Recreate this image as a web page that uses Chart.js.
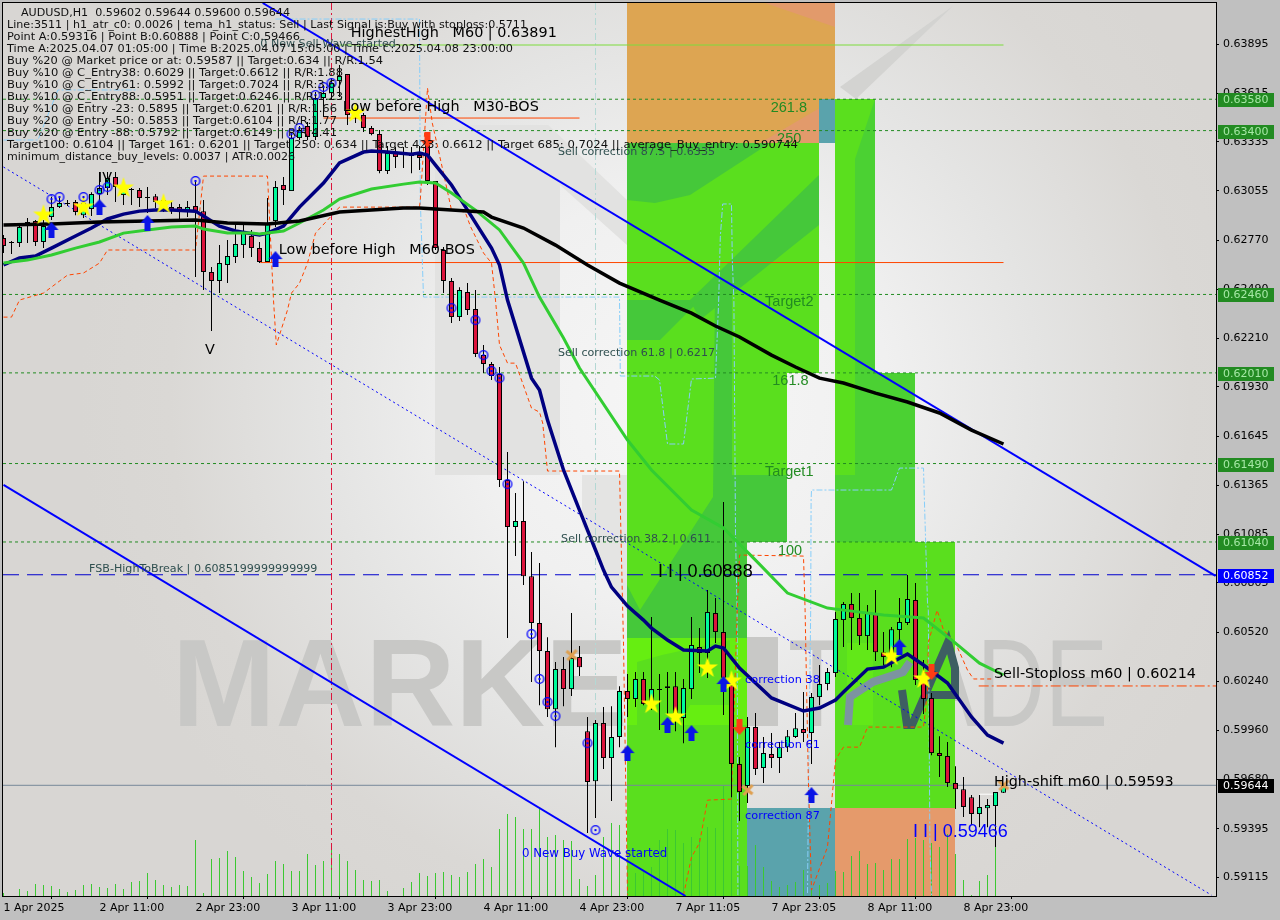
<!DOCTYPE html>
<html>
<head>
<meta charset="utf-8">
<title>AUDUSD,H1</title>
<script src="https://cdn.jsdelivr.net/npm/chart.js@4/dist/chart.umd.min.js"></script>
<style>
  html, body { margin: 0; padding: 0; background: #c0c0c0; }
  canvas { display: block; }
</style>
</head>
<body>
<canvas id="chart" width="1280" height="920"></canvas>
<script>
// candles, one entry per H1 bar
var opens = [
  .62784,.62761,.62755,.62858,.62881,.62761,.62904,.62961,.62984,.62990,
  .62915,.62950,.63036,.63070,.63134,.63030,.63065,.63059,.63019,.63024,
  .63002,.62961,.62961,.62933,.62967,.62938,.62589,.62537,.62629,.62675,
  .62743,.62795,.62726,.62646,.62881,.63088,.63053,.63357,.63426,.63363,
  .63587,.63615,.63684,.63724,.63501,.63489,.63415,.63380,.63168,.63271,
  .63265,.63254,.63260,.63329,.63111,.62715,.62537,.62330,.62474,.62376,
  .62112,.62061,.62003,.61395,.61126,.61160,.60844,.60575,.60414,.60081,
  .60311,.60196,.60380,.59954,.59668,.60001,.59800,.59921,.60185,.60139,
  .60254,.60110,.60196,.60202,.60213,.60030,.60196,.60437,.60403,.60632,
  .60523,.60219,.59766,.59640,.59978,.59743,.59823,.59800,.59863,.59921,
  .59967,.59944,.60150,.60225,.60288,.60592,.60684,.60604,.60500,.60632,
  .60408,.60391,.60535,.60575,.60707,.60248,.60145,.59829,.59812,.59657,
  .59622,.59576,.59479,.59513,.59525,.59602];
var highs = [
  .62801,.62766,.62858,.62898,.62887,.62887,.63019,.63019,.63002,.63002,
  .63024,.63047,.63162,.63162,.63162,.63099,.63070,.63070,.63076,.63036,
  .63024,.62990,.62979,.62996,.63116,.63002,.62617,.62743,.62772,.62870,
  .62870,.62830,.62761,.63013,.63111,.63134,.63386,.63426,.63449,.63621,
  .63661,.63702,.63776,.63724,.63529,.63501,.63426,.63403,.63311,.63306,
  .63306,.63306,.63311,.63386,.63111,.62732,.62554,.62502,.62525,.62485,
  .62170,.62072,.62044,.61556,.61321,.61389,.60982,.60919,.60494,.60351,
  .60380,.60632,.60443,.60036,.60018,.60093,.60098,.60213,.60282,.60294,
  .60294,.60609,.60282,.60294,.60294,.60254,.60609,.60546,.60764,.60718,
  .61269,.60288,.59806,.60036,.60059,.59921,.59944,.59892,.59961,.60059,
  .60179,.60173,.60334,.60317,.60638,.60695,.60747,.60747,.60678,.60764,
  .60523,.60552,.60718,.60850,.60804,.60363,.60173,.59926,.59892,.59754,
  .59691,.59588,.59588,.59565,.59605,.59644];
var lows = [
  .62698,.62692,.62732,.62755,.62738,.62726,.62887,.62956,.62967,.62915,
  .62898,.62910,.62973,.63030,.62990,.62973,.62973,.62961,.62927,.62956,
  .62933,.62921,.62887,.62904,.62560,.62485,.62250,.62468,.62525,.62640,
  .62669,.62675,.62640,.62646,.62847,.62973,.63053,.63346,.63346,.63346,
  .63478,.63575,.63593,.63432,.63443,.63392,.63374,.63156,.63151,.63185,
  .63185,.63156,.63174,.63088,.62715,.62468,.62296,.62307,.62342,.62101,
  .62009,.61969,.61355,.60489,.60959,.60793,.60236,.60104,.60036,.59863,
  .60098,.60156,.60271,.59370,.59456,.59737,.59554,.59863,.60036,.60093,
  .60104,.60076,.59961,.60053,.59954,.59886,.60139,.60288,.60259,.60460,
  .60047,.59576,.59439,.59542,.59703,.59657,.59743,.59714,.59835,.59915,
  .59892,.59766,.60104,.60190,.60265,.60437,.60420,.60449,.60420,.60357,
  .60334,.60322,.60477,.60563,.60219,.60053,.59817,.59691,.59634,.59508,
  .59462,.59416,.59404,.59404,.59290,.59600];
var closes = [
  .62738,.62755,.62847,.62875,.62761,.62852,.62961,.62984,.62979,.62933,
  .62984,.63036,.63070,.63128,.63076,.63070,.63059,.63013,.63013,.62990,
  .62967,.62938,.62933,.62961,.62938,.62589,.62537,.62640,.62680,.62749,
  .62812,.62726,.62646,.62864,.63076,.63059,.63357,.63403,.63363,.63587,
  .63615,.63673,.63713,.63489,.63484,.63415,.63380,.63168,.63271,.63248,
  .63260,.63271,.63243,.63111,.62726,.62537,.62330,.62485,.62371,.62118,
  .62061,.61992,.61395,.61126,.61160,.60844,.60575,.60414,.60081,.60311,
  .60196,.60374,.60322,.59663,.60001,.59800,.59921,.60185,.60139,.60254,
  .60110,.60196,.60191,.60213,.60059,.60202,.60449,.60403,.60638,.60523,
  .60259,.59766,.59605,.59978,.59737,.59829,.59800,.59863,.59926,.59972,
  .59944,.60150,.60225,.60294,.60598,.60684,.60604,.60500,.60632,.60408,
  .60380,.60540,.60581,.60713,.60248,.60139,.59829,.59812,.59657,.59622,
  .59519,.59479,.59519,.59531,.59605,.59644];
var volumes = [
  30,0,70,50,120,110,100,70,40,60,110,120,90,80,120,70,140,150,230,160,
  110,90,110,100,560,30,370,380,450,390,250,190,130,220,350,320,250,250,420,310,
  350,470,420,350,260,160,150,160,50,0,80,140,230,200,230,240,210,190,240,320,
  370,290,670,820,790,670,670,870,590,610,560,550,170,100,210,590,730,710,260,230,
  260,290,560,670,660,530,590,580,690,680,1100,1100,300,300,510,290,150,90,110,140,
  260,60,110,130,250,240,400,450,320,330,260,370,370,570,580,560,530,490,620,420,
  160,10,150,210,490,0];

// moving averages, as bar / price pairs
var navyBars = [0,2,4,6,9,11,13,15,17,19,21,24,25,27,29,32,33,35,37,40,42,45,46,48,51,52,53,54,56,58,61,62,63,66,67,68,69,70,72,73,74,75,76,78,80,81,83,85,88,89,90,92,94,96,100,102,104,105,108,110,113,115,118,121,123,125];
var navyPrices = [.62629,.62669,.62680,.62726,.62795,.62841,.62893,.62921,.62938,.62944,.62944,.62938,.62910,.62852,.62824,.62801,.62812,.62852,.62961,.63099,.63214,.63277,.63283,.63277,.63265,.63271,.63260,.63202,.63088,.62944,.62726,.62629,.62428,.61980,.61912,.61739,.61596,.61453,.61223,.61108,.60994,.60879,.60781,.60672,.60592,.60546,.60477,.60420,.60414,.60443,.60431,.60317,.60231,.60145,.60070,.60087,.60133,.60179,.60311,.60322,.60397,.60334,.60231,.60036,.59932,.59886];
var greenBars = [0,3,6,9,12,15,18,21,24,25,28,31,32,35,37,40,42,46,50,52,54,56,59,62,65,67,70,72,78,81,86,90,94,98,103,105,110,115,119,122,125];
var greenPrices = [.62640,.62657,.62686,.62726,.62761,.62812,.62830,.62847,.62852,.62835,.62812,.62812,.62807,.62824,.62870,.62944,.63007,.63065,.63093,.63105,.63099,.63042,.62944,.62830,.62640,.62445,.62210,.62038,.61625,.61453,.61223,.61120,.60936,.60747,.60661,.60649,.60621,.60604,.60460,.60345,.60277];
var blackBars = [0,6,12,18,24,28,33,37,42,50,52,56,60,61,65,69,73,77,82,86,89,92,96,99,102,105,109,113,117,121,125];
var blackPrices = [.62858,.62864,.62875,.62881,.62887,.62870,.62864,.62881,.62933,.62956,.62956,.62944,.62933,.62904,.62841,.62743,.62629,.62525,.62428,.62353,.62279,.62216,.62112,.62044,.61980,.61952,.61894,.61843,.61780,.61682,.61602];

// thin stepped stop lines, null breaks the line
var orangeBars = [0,1,2,5,8,10,12,13,24,25,33,33.75,34.1,35.5,36,37,38,39,42,52,52.1,53,53.6,55,56,57.7,58.4,60,61,61.5,62,63,64,66,67,67.4,68,77,77.4,77.5,78,81,85,86,87,88,91,91.1,91.7,92,100,100.2,100.6,101,103,104,104.6,105,107,108,115,115.5,115.6,116.7,117.5,119,120.5,121.25,123.75];
var orangePrices = [.62330,.62330,.62428,.62468,.62571,.62583,.62640,.62715,.62715,.63139,.63139,.62428,.62170,.62371,.62468,.62525,.62640,.62812,.62961,.62961,.63002,.63644,.63443,.63156,.62944,.62933,.62847,.62698,.62640,.62428,.62170,.62066,.62066,.61808,.61785,.61722,.61447,.61447,.60649,.60460,.59014,null,.59014,.59232,.59313,.59559,.59565,.59749,.60632,.60965,.60959,.60649,.59691,.59043,.59290,.59789,.59835,.59863,.59863,.59978,.59978,.60190,.60460,.60649,.60535,.60460,.60305,.60254,.60254];
var skyBars = [0,4.3,6.8,16.8,25,34,52,52.1,52.5,77,77.1,81.4,82,83,85,86,89,89.4,89.6,89.9,91,91.1,91.3,91.5,91.7,91.8,95,100.5,100.6,100.9,100.95,101,111,112,115,115.1,115.3,115.5,115.6,115.8,116];
var skyPrices = [.63346,.63346,.63633,.63633,null,.64040,.64040,.63002,.62445,.62445,.61992,.61992,.61969,.61602,.61602,.61975,.61980,.62428,.62789,.62979,.62979,.62657,.62428,.61091,.60649,.59014,null,.59026,.59502,.60649,.61280,.61338,.61338,.61464,.61464,.61298,.60994,.60690,.60649,.59313,.59014];

// trend channel: bar, price at each end
var channelTop = { bars: [32.4, 151.5], prices: [.64132, .60845] };
var channelLow = { bars: [0, 85.25], prices: [.61367, .59009] };
var channelMid = { bars: [0, 151], prices: [.63191, .59014] };

// signal marks
var starBars = [5,10,15,20,44,81,84,88,91,111,115];
var starPrices = [.62915,.62961,.63070,.62979,.63501,.60110,.60036,.60317,.60242,.60385,.60254];
var upBars = [6,12,18,34,78,83,86,90,101,112];
var upPrices = [.62830,.62961,.62870,.62663,.59829,.59990,.59944,.60225,.59588,.60437];
var downBars = [53,92,116];
var downPrices = [.63346,.59978,.60294];
var ringBars = [6,7,10,12,13,24,36,37,39,40,41,56,59,60,61,62,63,66,67,68,69,73,74];
var ringPrices = [.63007,.63019,.63019,.63059,.63076,.63111,.63380,.63415,.63604,.63650,.63673,.62382,.62313,.62112,.62021,.61980,.61372,.60512,.60254,.60122,.60041,.59886,.59387];
var crossBars = [71,93,125];
var crossPrices = [.60391,.59617,.59645];

// levels
var targetLevels = [.63580,.63400,.62460,.62010,.61490,.61040];
var breakLevel = .60852;
var lastPrice = .59644;
var stopLevel = .60214;
var highestHigh = .63891;
var shiftLevel = .59593;
var bosM30 = .63472;
var bosM60 = .62643;

// axis labels
var priceTicks = [.63895,.63615,.63335,.63055,.62770,.62490,.62210,.61930,.61645,.61365,.61085,.60805,.60520,.60240,.59960,.59680,.59395,.59115];
var timeTicks = [0,12,24,36,48,60,72,84,96,108,120];
var timeLabels = ["1 Apr 2025","2 Apr 11:00","2 Apr 23:00","3 Apr 11:00","3 Apr 23:00","4 Apr 11:00","4 Apr 23:00","7 Apr 11:05","7 Apr 23:05","8 Apr 11:00","8 Apr 23:00"];

var headerTitle = "AUDUSD,H1  0.59602 0.59644 0.59600 0.59644";
var headerLines = [
  "Line:3511 | h1_atr_c0: 0.0026 | tema_h1_status: Sell | Last Signal is:Buy with stoploss:0.5711",
  "Point A:0.59316 | Point B:0.60888 | Point C:0.59466",
  "Time A:2025.04.07 01:05:00 | Time B:2025.04.07 15:05:00 | Time C:2025.04.08 23:00:00",
  "Buy %20 @ Market price or at: 0.59587 || Target:0.634 || R/R:1.54",
  "Buy %10 @ C_Entry38: 0.6029 || Target:0.6612 || R/R:1.88",
  "Buy %10 @ C_Entry61: 0.5992 || Target:0.7024 || R/R:3.67",
  "Buy %10 @ C_Entry88: 0.5951 || Target:0.6246 || R/R:1.23",
  "Buy %10 @ Entry -23: 0.5895 || Target:0.6201 || R/R:1.66",
  "Buy %20 @ Entry -50: 0.5853 || Target:0.6104 || R/R:1.77",
  "Buy %20 @ Entry -88: 0.5792 || Target:0.6149 || R/R:4.41",
  "Target100: 0.6104 || Target 161: 0.6201 || Target 250: 0.634 || Target 423: 0.6612 || Target 685: 0.7024 || average_Buy_entry: 0.590744",
  "minimum_distance_buy_levels: 0.0037 | ATR:0.0026"
];

// chart notes
var noteTexts = ["0 New Sell Wave started","HighestHigh   M60 | 0.63891","Low before High   M30-BOS","Low before High   M60-BOS","V","IV","FSB-HighToBreak | 0.6085199999999999","Sell correction 87.5 | 0.6335","Sell correction 61.8 | 0.6217","Sell correction 38.2 | 0.611","261.8","250","Target2","161.8","Target1","100","I I | 0.60888","correction 38","correction 61","correction 87","0 New Buy Wave started","Sell-Stoploss m60 | 0.60214","High-shift m60 | 0.59593","I I | 0.59466"];
var noteBars = [32.1,43.4,42.4,34.4,25.2,11.8,10.7,69.3,69.3,69.7,95.9,96.7,95.2,96.1,95.2,96.8,81.8,92.7,92.7,92.7,64.8,123.8,123.8,113.7];
var notePrices = [.63897,.63960,.63535,.62715,.62141,.63128,.60885,.63277,.62124,.61057,.63529,.63352,.62416,.61963,.61441,.60988,.60867,.60248,.59875,.59468,.59250,.60282,.59663,.59376];

// filled zones: first bar, last bar, low, high
var greenZones = [[77.94,101.94,.62009,.63329],[77.94,97.94,.61040,.62009],[77.94,92.94,.59009,.61040],[103.94,108.94,.62009,.63580],[103.94,113.94,.61040,.62009],[103.94,118.94,.59513,.61040]];
var salmonZones = [[103.94,118.94,.59009,.59513]];
var tealZones = [[92.94,103.94,.59009,.59513],[101.94,103.94,.63329,.63580]];
var amberZone = [77.94,103.94,.63329,.64132];

var FONT = '"DejaVu Sans"';
var up = '#00fa9a', down = '#dc143c';

function pairs(xs, ys) {
  return xs.map(function(x, i) { return { x: x, y: ys[i] }; });
}

function line(xs, ys, color, width, dash, order) {
  return { type: 'line', data: pairs(xs, ys), borderColor: color, borderWidth: width, borderDash: dash || [],
    pointRadius: 0, tension: 0, spanGaps: false, order: order, yAxisID: 'y', borderCapStyle: 'butt' };
}

function sprite(w, h, paint) {
  var c = document.createElement('canvas');
  c.width = w; c.height = h;
  paint(c.getContext('2d'));
  return c;
}

var starMark = sprite(24, 24, function(g) {
  g.fillStyle = '#ffff00';
  g.beginPath();
  for (var k = 0; k < 10; k++) {
    var r = k % 2 ? 4.2 : 11, a = -Math.PI / 2 + k * Math.PI / 5;
    g.lineTo(12 + r * Math.cos(a), 12 + r * Math.sin(a));
  }
  g.closePath();
  g.fill();
});
function arrow(g, color) {
  g.fillStyle = color;
  g.beginPath();
  g.moveTo(8, 0); g.lineTo(15, 8); g.lineTo(11, 8); g.lineTo(11, 16); g.lineTo(5, 16); g.lineTo(5, 8); g.lineTo(1, 8);
  g.closePath();
  g.fill();
}
var upMark = sprite(16, 16, function(g) { arrow(g, '#0a14e6'); });
var downMark = sprite(16, 16, function(g) {
  g.translate(0, 16); g.scale(1, -1);
  arrow(g, '#ff3c14');
});
var ringMark = sprite(12, 12, function(g) {
  g.strokeStyle = '#0000ff'; g.lineWidth = 1.3;
  g.beginPath(); g.arc(6, 6, 4.3, 0, Math.PI * 2); g.stroke();
  g.fillStyle = '#0000ff'; g.fillRect(5, 5, 2, 2);
});
var crossMark = sprite(14, 14, function(g) {
  g.strokeStyle = '#dfa050'; g.lineWidth = 3;
  g.beginPath(); g.moveTo(2, 3); g.lineTo(12, 11); g.moveTo(12, 2); g.lineTo(3, 12); g.stroke();
});

function marks(xs, ys, img) {
  return { type: 'line', data: pairs(xs, ys), showLine: false, pointStyle: img, order: 1, yAxisID: 'y' };
}

var allBars = opens.map(function(o, i) { return i; });
var datasets = [];

// volume sticks
datasets.push({ type: 'bar', label: 'volume', data: pairs(allBars, volumes), yAxisID: 'vol', backgroundColor: '#3cc832',
  barThickness: 1, grouped: false, inflateAmount: 0, borderWidth: 0, order: 9 });

// full width levels first
targetLevels.forEach(function(p) {
  datasets.push(line([-0.06, 151.56], [p, p], '#228b22', 1, [3, 3], 7));
});
datasets.push(line([-0.06, 151.56], [breakLevel, breakLevel], '#0000cd', 1.2, [16, 8], 7));
datasets.push(line([-0.06, 151.56], [lastPrice, lastPrice], '#778899', 1, [], 7));
datasets.push(line([42, 125], [highestHigh, highestHigh], '#7cdc3c', 1, [], 7));
datasets.push(line([40, 72], [bosM30, bosM30], '#ff4500', 1, [], 7));
datasets.push(line([32.1, 125], [bosM60, bosM60], '#ff4500', 1, [], 7));
datasets.push(line([121.9, 151.56], [stopLevel, stopLevel], '#ff4500', 1, [10, 3, 2, 3], 7));
datasets.push(line([122, 124], [shiftLevel, shiftLevel], '#ffffff', 1, [], 7));
datasets.push(line([41, 41], [.64132, .59160], '#dc143c', 1, [7, 3, 2, 3], 7));
datasets.push(line([74, 74], [.64132, .60020], '#b4d8d4', 1, [7, 3, 2, 3], 7));

datasets.push(line(orangeBars, orangePrices, '#ff4500', 1, [4, 3], 6));
datasets.push(line(skyBars, skyPrices, '#87cefa', 1, [6, 2, 2, 2], 6));
datasets.push(line(channelTop.bars, channelTop.prices, '#0000ff', 2, [], 5));
datasets.push(line(channelLow.bars, channelLow.prices, '#0000ff', 2, [], 5));
datasets.push(line(channelMid.bars, channelMid.prices, '#0000ff', 1, [2, 3], 5));

datasets.push({ type: 'bar', label: 'wick', data: allBars.map(function(i) { return { x: i, y: [lows[i], highs[i]] }; }), yAxisID: 'y',
  backgroundColor: '#000000', barThickness: 1, grouped: false, inflateAmount: 0, borderWidth: 0, order: 4 });
datasets.push({ type: 'bar', label: 'body', data: allBars.map(function(i) { return { x: i, y: [opens[i], closes[i]] }; }), yAxisID: 'y',
  backgroundColor: allBars.map(function(i) { return closes[i] >= opens[i] ? up : down; }),
  borderColor: '#000000', borderWidth: 1, borderSkipped: false, barThickness: 5, grouped: false, inflateAmount: 0, order: 3 });

datasets.push(line(blackBars, blackPrices, '#000000', 3.5, [], 2));
datasets.push(line(greenBars, greenPrices, '#32cd32', 3, [], 2));
datasets.push(line(navyBars, navyPrices, '#000080', 3.5, [], 2));

datasets.push(marks(ringBars, ringPrices, ringMark));
datasets.push(marks(crossBars, crossPrices, crossMark));
datasets.push(marks(upBars, upPrices, upMark));
datasets.push(marks(downBars, downPrices, downMark));
datasets.push(marks(starBars, starPrices, starMark));

function poly(ctx, pts, color) {
  ctx.fillStyle = color;
  ctx.beginPath();
  pts.forEach(function(p) { ctx.lineTo(p[0], p[1]); });
  ctx.closePath();
  ctx.fill();
}

// draws one real text run squeezed or widened to the span it has in the picture
function fitted(ctx, text, x0, x1, y, font, baseline) {
  ctx.save();
  ctx.font = font;
  ctx.textAlign = 'left';
  ctx.textBaseline = baseline;
  var w = ctx.measureText(text).width;
  ctx.translate(x0, y);
  ctx.scale((x1 - x0) / w, 1);
  ctx.fillText(text, 0, 0);
  ctx.restore();
}

// plot background, logo watermark and the filled zones sit under every series
var backdrop = {
  id: 'backdrop',
  beforeDatasetsDraw: function(chart) {
    var ctx = chart.ctx, a = chart.chartArea, sx = chart.scales.x, sy = chart.scales.y;
    function zoneRect(z, color) {
      var l = sx.getPixelForValue(z[0]), r = sx.getPixelForValue(z[1]);
      var t = sy.getPixelForValue(z[3]), b = sy.getPixelForValue(z[2]);
      ctx.fillStyle = color;
      ctx.fillRect(Math.round(l), Math.round(t), Math.round(r) - Math.round(l), Math.round(b) - Math.round(t));
    }
    ctx.save();
    ctx.beginPath();
    ctx.rect(a.left, a.top, a.width, a.height);
    ctx.clip();

    var g = ctx.createRadialGradient(680, 400, 0, 680, 400, 600);
    g.addColorStop(0, '#f6f6f6');
    g.addColorStop(0.35, '#f0f0f0');
    g.addColorStop(0.6, '#e4e4e3');
    g.addColorStop(0.85, '#dad8d5');
    g.addColorStop(1, '#d8d6d3');
    ctx.fillStyle = g;
    ctx.fillRect(a.left, a.top, a.width, a.height);

    poly(ctx, [[435,140],[467,125],[548,125],[627,200],[627,245],[560,185],[560,475],[435,475]], '#e2e2e1');
    poly(ctx, [[582,475],[627,475],[627,612],[582,525]], '#e4e4e3');
    poly(ctx, [[953,6],[840,87],[856,99]], '#d3d3d1');

    ctx.fillStyle = '#c8c8c6';
    fitted(ctx, 'MARKE', 172, 628, 726, 'bold 124px "Liberation Sans"', 'alphabetic');
    ctx.fillRect(747, 637, 31, 89);
    fitted(ctx, 'TRADE', 788, 1108, 726, '124px "Liberation Sans"', 'alphabetic');

    greenZones.forEach(function(z) { zoneRect(z, '#5adf1e'); });
    salmonZones.forEach(function(z) { zoneRect(z, '#e59a6b'); });
    tealZones.forEach(function(z) { zoneRect(z, '#5aa3ac'); });
    zoneRect(amberZone, '#dda552');
    poly(ctx, [[765,3],[835,3],[835,27]], '#e29a6b');
    poly(ctx, [[760,143],[835,143],[835,99]], '#e29a6b');
    poly(ctx, [[819,99],[835,99],[835,143],[819,143]], '#5aa3ac');

    // logo tones showing through the zones
    poly(ctx, [[627,143],[770,143],[690,195],[655,203],[627,200]], '#45c83a');
    poly(ctx, [[627,300],[700,300],[660,340],[627,340]], '#45c83a');
    poly(ctx, [[819,175],[819,225],[700,320],[690,300]], '#45c83a');
    poly(ctx, [[715,290],[732,275],[732,475],[787,475],[787,542],[747,542],[747,638],[627,638],[627,585],[640,610],[713,497]], '#45c83a');
    poly(ctx, [[627,638],[747,638],[747,725],[627,725]], '#66ee11');
    poly(ctx, [[637,662],[662,655],[730,640],[730,705],[690,705],[680,725],[637,725]], '#5adf1e');
    poly(ctx, [[855,159],[875,99],[875,373],[915,373],[915,542],[835,542],[835,475],[855,475]], '#4bd133');
    poly(ctx, [[847,643],[873,643],[873,725],[847,725]], '#62e818');

    ctx.lineJoin = 'miter';
    ctx.strokeStyle = '#7c94a0';
    ctx.lineWidth = 8;
    ctx.beginPath();
    [[848,725],[850,697],[873,682],[903,672],[910,662]].forEach(function(p) { ctx.lineTo(p[0], p[1]); });
    ctx.stroke();
    ctx.strokeStyle = '#3e5e62';
    ctx.beginPath();
    [[902,690],[907,725],[912,725],[948,642],[955,668],[955,695],[927,695]].forEach(function(p) { ctx.lineTo(p[0], p[1]); });
    ctx.stroke();
    ctx.restore();
  }
};

var noteStyle = {
  dark: { font: '11.1px ' + FONT, color: '#2f4f4f' },
  big: { font: '14.4px ' + FONT, color: '#000000' },
  level: { font: '14.5px "Liberation Sans"', color: '#228b22' },
  wave: { font: '18px "Liberation Sans"', color: '#000000' },
  waveBlue: { font: '18px "Liberation Sans"', color: '#0000ff' },
  blue: { font: '11.3px ' + FONT, color: '#0000ff' },
  blueLong: { font: '11.8px ' + FONT, color: '#0000ff' }
};
var noteKinds = ['dark','big','big','big','big','big','dark','dark','dark','dark','level','level','level','level','level','level','wave','blue','blue','blue','blueLong','big','big','waveBlue'];
var headerEnds = [527,300,513,383,343,343,343,337,337,337,798,295];

// header block, notes and the right hand price tags
var overlay = {
  id: 'overlay',
  afterDatasetsDraw: function(chart) {
    var ctx = chart.ctx, sx = chart.scales.x, sy = chart.scales.y;
    ctx.save();
    ctx.textAlign = 'left';
    ctx.textBaseline = 'middle';
    noteTexts.forEach(function(t, i) {
      var st = noteStyle[noteKinds[i]];
      ctx.font = st.font;
      ctx.fillStyle = st.color;
      ctx.fillText(t, sx.getPixelForValue(noteBars[i]), sy.getPixelForValue(notePrices[i]));
    });
    ctx.fillStyle = '#101010';
    var headFont = '11px ' + FONT;
    fitted(ctx, headerTitle, 21, 290, 13, headFont, 'middle');
    headerLines.forEach(function(t, i) {
      fitted(ctx, t, 7, headerEnds[i], 25.5 + i * 12, headFont, 'middle');
    });
    ctx.restore();
  },
  afterDraw: function(chart) {
    var ctx = chart.ctx, a = chart.chartArea, sy = chart.scales.y;
    function tag(p, bg, fg) {
      var y = Math.round(sy.getPixelForValue(p));
      ctx.fillStyle = bg;
      ctx.fillRect(1218, y - 6, 56, 14);
      ctx.fillStyle = fg;
      ctx.fillText(p.toFixed(5), 1223, y + 1);
    }
    ctx.save();
    ctx.strokeStyle = '#000000';
    ctx.lineWidth = 1;
    ctx.strokeRect(a.left - 0.5, a.top - 0.5, a.width + 1, a.height + 1);
    ctx.font = '11px ' + FONT;
    ctx.textAlign = 'left';
    ctx.textBaseline = 'middle';
    targetLevels.forEach(function(p) { tag(p, '#228b22', '#a6e8a6'); });
    tag(breakLevel, '#0000ff', '#ffffff');
    tag(lastPrice, '#000000', '#ffffff');
    ctx.restore();
  }
};

function noPadding(s) {
  s.paddingTop = s.paddingBottom = s.paddingLeft = s.paddingRight = 0;
}

new Chart(document.getElementById('chart'), {
  type: 'bar',
  data: { datasets: datasets },
  options: {
    responsive: false,
    devicePixelRatio: 1,
    animation: false,
    events: [],
    layout: { autoPadding: false, padding: { left: 3, top: 3, right: 0, bottom: 0 } },
    plugins: { legend: { display: false }, tooltip: { enabled: false } },
    scales: {
      x: {
        type: 'linear', offset: false, min: -0.0625, max: 151.5625,
        afterBuildTicks: function(s) { s.ticks = timeTicks.map(function(v) { return { value: v }; }); },
        afterFit: function(s) { s.height = 24; noPadding(s); },
        grid: { drawOnChartArea: false, color: '#000000', tickLength: 3 },
        border: { color: '#000000' },
        ticks: {
          autoSkip: false, maxRotation: 0, align: 'start', padding: 3, color: '#000000',
          font: { family: 'DejaVu Sans', size: 11 },
          callback: function(v) { return timeLabels[timeTicks.indexOf(v)]; }
        }
      },
      y: {
        position: 'right', min: .59009, max: .64132,
        afterBuildTicks: function(s) { s.ticks = priceTicks.map(function(v) { return { value: v }; }); },
        afterFit: function(s) { s.width = 64; noPadding(s); },
        grid: { drawOnChartArea: false, color: '#000000', tickLength: 3 },
        border: { color: '#000000' },
        ticks: {
          autoSkip: false, padding: 4, color: '#000000',
          font: { family: 'DejaVu Sans', size: 11 },
          callback: function(v) { return v.toFixed(5); }
        }
      },
      vol: { display: false, min: 0, max: 8930 }
    }
  },
  plugins: [backdrop, overlay]
});
</script>
</body>
</html>
